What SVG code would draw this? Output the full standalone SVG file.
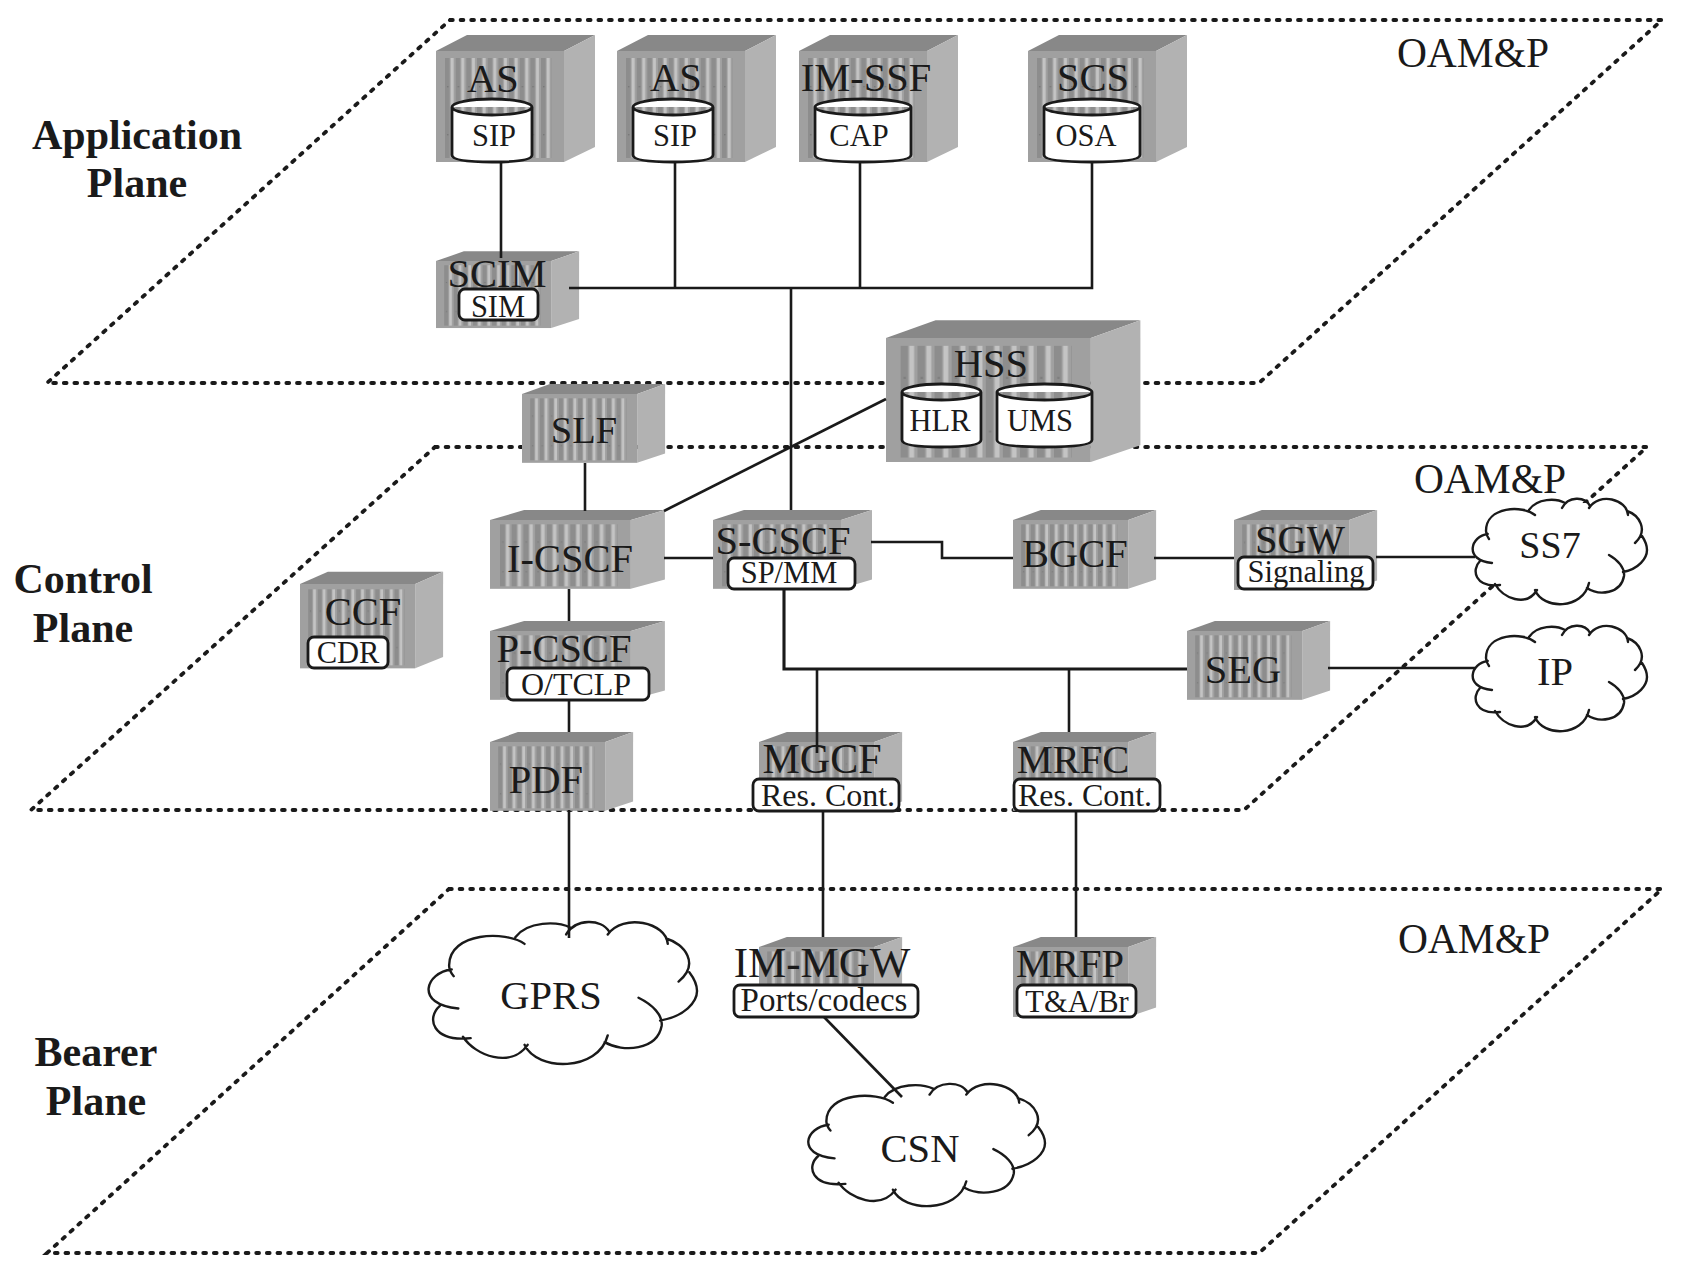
<svg xmlns="http://www.w3.org/2000/svg" width="1685" height="1275" viewBox="0 0 1685 1275">
<style>
text{font-family:"Liberation Serif","Times New Roman",serif;fill:#1a1a1a;text-anchor:middle}
.t{font-size:40.500px}
.s{font-size:30.500px}
.b{font-size:42px;font-weight:bold}
.o{font-size:41.500px}
.plane{fill:none;stroke:#1a1a1a;stroke-width:3.800;stroke-linecap:round;stroke-dasharray:2.800 7.800}
.c{fill:none;stroke:#1a1a1a;stroke-width:2.600}
.c3{fill:none;stroke:#1a1a1a;stroke-width:3.100}
.lb{fill:#fff;stroke:#1a1a1a;stroke-width:2.800}
.cy{fill:#fff;stroke:#1a1a1a;stroke-width:2.800}
.cl{fill:none;stroke:#1a1a1a;stroke-width:2.400;stroke-linecap:round;vector-effect:non-scaling-stroke}
</style>
<defs>
<pattern id="st" x="9" y="7" width="10.67" height="100" patternUnits="userSpaceOnUse">
<rect width="10.67" height="100" fill="#a0a0a0"/>
<rect width="4.600" height="100" fill="#8d8d8d"/>
<rect x="5.600" width="3" height="100" fill="#c4c4c4"/>
<rect x="2" y="28" width="1.400" height="1.400" fill="#777"/>
<rect x="2" y="76" width="1.400" height="1.400" fill="#777"/>
</pattern>
<g id="srv">
<polygon points="0,0 31,-16 159,-16 128,0" fill="#888"/>
<polygon points="128,0 159,-16 159,96 128,111" fill="#b2b2b2"/>
<rect width="128" height="111" fill="#a0a0a0"/>
<rect x="9" y="7" width="107" height="100" fill="url(#st)"/>
</g>
<g id="cloud">
<path fill="#fff" d="M15,30L40,12L90,6L136,4L165,25L172,55L150,80L118,95L89,104L50,98L20,85L5,70L3,50Z"/>
<path class="cl" d="M16.700,36C0,38 -8,62 21,65M9,63C0,72 4,90 29,87M24,86C32,100 55,110 66,92M64,92C72,112 112,112 118,85M116,90C128,98 150,96 153,78C154,70 147,62 138,57M152,74C168,71 176,60 176,52C176,46 173,41 171,38M156,13C168,17 178,32 164,45M157,17C156,1 128,-6 118,10M119,8C114,-2 97,-2 91,10M94,5C85,0 66,0 58,12M64,17C52,7 15,8 15,33Q15,37 18,41"/>
</g>
</defs>
<rect width="1685" height="1275" fill="#fff"/>

<g id="planes">
<polygon class="plane" points="450,20 1662,20 1259,383 47,383"/>
<polygon class="plane" points="435,447 1647,447 1244,810 31,810"/>
<polygon class="plane" points="449,889 1662,889 1259,1253 47,1253"/>
</g>

<g id="plane-labels">
<text class="b" x="137" y="149">Application</text>
<text class="b" x="137" y="197">Plane</text>
<text class="b" x="83" y="593">Control</text>
<text class="b" x="83" y="642">Plane</text>
<text class="b" x="96" y="1066">Bearer</text>
<text class="b" x="96" y="1115">Plane</text>
<text class="o" x="1473" y="67">OAM&amp;P</text>
<text class="o" x="1490" y="493">OAM&amp;P</text>
<text class="o" x="1474" y="953">OAM&amp;P</text>
</g>

<g id="as1">
<use href="#srv" transform="translate(436,51)"/>
<text class="t" x="493" y="92">AS</text>
<path class="cy" d="M452,107A40,8 0 0 1 532,107V155Q532,162 492,162Q452,162 452,155ZM452,107A40,8 0 0 0 532,107"/>
<text class="s" x="494" y="146">SIP</text>
</g>
<g id="as2">
<use href="#srv" transform="translate(617,51)"/>
<text class="t" x="676" y="91">AS</text>
<path class="cy" d="M633,107A40,8 0 0 1 713,107V155Q713,162 673,162Q633,162 633,155ZM633,107A40,8 0 0 0 713,107"/>
<text class="s" x="675" y="146">SIP</text>
</g>
<g id="im-ssf">
<use href="#srv" transform="translate(799,51)"/>
<text class="t" x="866" y="91">IM-SSF</text>
<path class="cy" d="M815,107A48,8 0 0 1 911,107V155Q911,162 863,162Q815,162 815,155ZM815,107A48,8 0 0 0 911,107"/>
<text class="s" x="859" y="146">CAP</text>
</g>
<g id="scs">
<use href="#srv" transform="translate(1028,51)"/>
<text class="t" x="1093" y="91">SCS</text>
<path class="cy" d="M1044,107A48,8 0 0 1 1140,107V155Q1140,162 1092,162Q1044,162 1044,155ZM1044,107A48,8 0 0 0 1140,107"/>
<text class="s" x="1086" y="146">OSA</text>
</g>
<g id="scim">
<use href="#srv" transform="translate(436,261) scale(.9,.604)"/>
<text class="t" x="497" y="287">SCIM</text>
<rect class="lb" x="459" y="289" width="79" height="31" rx="6"/>
<text class="s" x="498" y="317">SIM</text>
</g>
<g id="hss">
<use href="#srv" transform="translate(886,338) scale(1.6,1.117)"/>
<text class="t" x="991" y="377">HSS</text>
<path class="cy" d="M902,392A39.500,8 0 0 1 981,392V440Q981,447 941.500,447Q902,447 902,440ZM902,392A39.500,8 0 0 0 981,392"/>
<text class="s" x="940" y="431">HLR</text>
<path class="cy" d="M997,392A47.500,8 0 0 1 1092,392V440Q1092,447 1044.500,447Q997,447 997,440ZM997,392A47.500,8 0 0 0 1092,392"/>
<text class="s" x="1040" y="431">UMS</text>
</g>
<g id="slf">
<use href="#srv" transform="translate(522,394) scale(.9,.62)"/>
<text class="t" x="584" y="443" style="font-size:38.500px">SLF</text>
</g>
<g id="i-cscf">
<use href="#srv" transform="translate(490,520) scale(1.1,.62)"/>
<text class="t" x="570" y="572">I-CSCF</text>
</g>
<g id="p-cscf">
<use href="#srv" transform="translate(490,631) scale(1.1,.62)"/>
<text class="t" x="564" y="662">P-CSCF</text>
<rect class="lb" x="507" y="668" width="142" height="32" rx="6"/>
<text class="s" x="576" y="695" style="font-size:32px">O/TCLP</text>
</g>
<g id="pdf">
<use href="#srv" transform="translate(490,742) scale(.9,.62)"/>
<text class="t" x="546" y="793">PDF</text>
</g>
<g id="ccf">
<use href="#srv" transform="translate(300,584) scale(.9,.76)"/>
<text class="t" x="363" y="625">CCF</text>
<rect class="lb" x="308" y="637" width="80" height="31" rx="6"/>
<text class="s" x="348" y="663">CDR</text>
</g>
<g id="s-cscf">
<use href="#srv" transform="translate(713,520) scale(1,.62)"/>
<text class="t" x="783" y="554">S-CSCF</text>
<rect class="lb" x="728" y="558" width="127" height="31" rx="6"/>
<text class="s" x="789" y="583">SP/MM</text>
</g>
<g id="bgcf">
<use href="#srv" transform="translate(1013,520) scale(.9,.62)"/>
<text class="t" x="1075" y="567">BGCF</text>
</g>
<g id="sgw">
<use href="#srv" transform="translate(1234,520) scale(.9,.63)"/>
<text class="t" x="1300" y="553">SGW</text>
<rect class="lb" x="1238" y="557" width="135" height="32" rx="6"/>
<text class="s" x="1306" y="582">Signaling</text>
</g>
<g id="seg">
<use href="#srv" transform="translate(1187,631) scale(.9,.62)"/>
<text class="t" x="1243" y="683">SEG</text>
</g>
<g id="mgcf">
<use href="#srv" transform="translate(759,742) scale(.9,.62)"/>
<text class="t" x="822" y="773" style="font-size:42px">MGCF</text>
<rect class="lb" x="753" y="779" width="146" height="32" rx="6"/>
<text class="s" x="828" y="806" style="font-size:32px">Res. Cont.</text>
</g>
<g id="mrfc">
<use href="#srv" transform="translate(1013,742) scale(.9,.62)"/>
<text class="t" x="1073" y="773">MRFC</text>
<rect class="lb" x="1014" y="779" width="146" height="32" rx="6"/>
<text class="s" x="1085" y="806" style="font-size:32px">Res. Cont.</text>
</g>
<g id="im-mgw">
<use href="#srv" transform="translate(759,947) scale(.9,.63)"/>
<text class="t" x="822" y="977" style="font-size:43px">IM-MGW</text>
<rect class="lb" x="734" y="985" width="184" height="32" rx="6"/>
<text class="s" x="824" y="1011" style="font-size:33px">Ports/codecs</text>
</g>
<g id="mrfp">
<use href="#srv" transform="translate(1013,947) scale(.9,.63)"/>
<text class="t" x="1070" y="977">MRFP</text>
<rect class="lb" x="1017" y="985" width="119" height="32" rx="6"/>
<text class="s" x="1077" y="1012">T&amp;A/Br</text>
</g>
<g id="ss7">
<use href="#cloud" transform="translate(1471,498)"/>
<text class="t" x="1550" y="558" style="font-size:38px">SS7</text>
</g>
<g id="ip">
<use href="#cloud" transform="translate(1471,625)"/>
<text class="t" x="1555" y="685">IP</text>
</g>
<g id="gprs">
<use href="#cloud" transform="translate(426,921) scale(1.54,1.346)"/>
<text class="t" x="551" y="1009">GPRS</text>
</g>
<g id="csn">
<use href="#cloud" transform="translate(806,1083) scale(1.358,1.159)"/>
<text class="t" x="920" y="1162">CSN</text>
</g>

<g id="connectors">
<path class="c" d="M501,162V258"/>
<path class="c" d="M675,163V288"/>
<path class="c" d="M860,163V288"/>
<path class="c" d="M1092,163V288H569"/>
<path class="c" d="M791,288V510"/>
<path class="c" d="M886,399L664,511"/>
<path class="c" d="M585,463V511"/>
<path class="c" d="M664,558H713"/>
<path class="c" d="M871,542H942V558H1013"/>
<path class="c" d="M1154,558H1234"/>
<path class="c" d="M1376,557H1475"/>
<path class="c" d="M1328,668H1475"/>
<path class="c3" d="M784,589V669H1187"/>
<path class="c" d="M817,669V753"/>
<path class="c" d="M1069,669V732"/>
<path class="c" d="M569,589V621"/>
<path class="c" d="M569,700V732"/>
<path class="c" d="M569,810V938"/>
<path class="c" d="M823,811V937"/>
<path class="c" d="M1076,811V937"/>
<path class="c" d="M824,1017L902,1097"/>
</g>
</svg>
